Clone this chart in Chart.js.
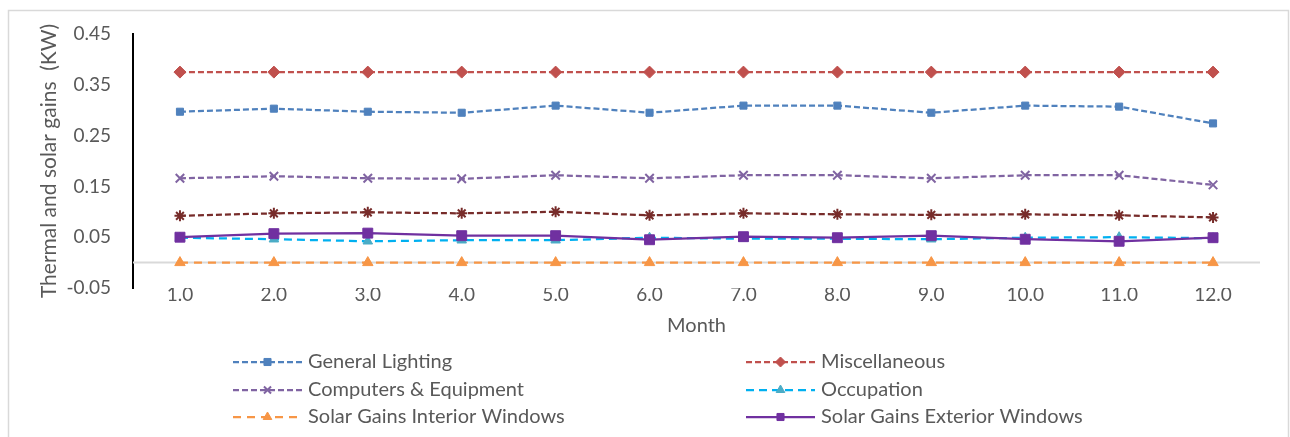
<!DOCTYPE html>
<html>
<head>
<meta charset="utf-8">
<script src="https://cdn.jsdelivr.net/npm/chart.js@4.4.1/dist/chart.umd.min.js"></script>
<style>
  html, body { margin: 0; padding: 0; background: #ffffff; }
  #wrap { position: relative; width: 1290px; height: 437px; }
</style>
</head>
<body>
<div id="wrap"><canvas id="gains" width="1290" height="437"></canvas></div>
<script>
// Monthly thermal and solar gains (kW)
const months = ['1.0', '2.0', '3.0', '4.0', '5.0', '6.0', '7.0', '8.0', '9.0', '10.0', '11.0', '12.0'];

const generalLighting    = [0.297, 0.303, 0.297, 0.295, 0.309, 0.295, 0.309, 0.309, 0.295, 0.309, 0.307, 0.274];
const miscellaneous      = [0.375, 0.375, 0.375, 0.375, 0.375, 0.375, 0.375, 0.375, 0.375, 0.375, 0.375, 0.375];
const computersEquipment = [0.166, 0.170, 0.166, 0.165, 0.172, 0.166, 0.172, 0.172, 0.166, 0.172, 0.172, 0.153];
const otherGains         = [0.092, 0.097, 0.099, 0.097, 0.100, 0.093, 0.097, 0.095, 0.094, 0.095, 0.093, 0.089];
const occupation         = [0.049, 0.046, 0.042, 0.044, 0.044, 0.049, 0.047, 0.047, 0.046, 0.049, 0.050, 0.048];
const solarInterior      = [0, 0, 0, 0, 0, 0, 0, 0, 0, 0, 0, 0];
const solarExterior      = [0.050, 0.057, 0.058, 0.053, 0.053, 0.045, 0.051, 0.049, 0.053, 0.046, 0.042, 0.049];

const yMin = -0.05;
const yMax = 0.45;
const yStep = 0.1;

const FONT = 'Lato, "Open Sans", sans-serif';
const TEXT = '#595959';

function series(label, data, color, style, opts) {
  return Object.assign({
    label: label,
    data: data,
    borderColor: color,
    backgroundColor: color,
    pointBackgroundColor: color,
    pointBorderColor: color,
    borderWidth: 2.25,
    pointStyle: style,
    pointRadius: 5,
    pointHoverRadius: 5,
    pointBorderWidth: 1,
    tension: 0,
    fill: false
  }, opts || {});
}

const datasets = [
  series('Solar Gains Exterior Windows', solarExterior, '#7030a0', 'rect',
         { pointRadius: 7, borderWidth: 2.25, order: 0 }),
  series('Occupation', occupation, '#00b0f0', 'triangle',
         { pointBackgroundColor: '#4bacc6', pointBorderColor: '#4bacc6', pointRadius: 5.5,
           borderDash: [8, 5], order: 2 }),
  series('Other gains', otherGains, '#772c2a', 'star',
         { pointRadius: 5.5, pointBorderWidth: 2, borderDash: [6, 3], order: 3 }),
  series('Computers & Equipment', computersEquipment, '#8064a2', 'crossRot',
         { pointRadius: 6, pointBorderWidth: 2, borderDash: [6, 3], order: 4 }),
  series('General Lighting', generalLighting, '#4f81bd', 'rect',
         { pointRadius: 5, borderDash: [6, 3], order: 5 }),
  series('Miscellaneous', miscellaneous, '#c0504d', 'rectRot',
         { pointRadius: 6, borderDash: [6, 3], order: 6 }),
  series('Solar Gains Interior Windows', solarInterior, '#f79646', 'triangle',
         { pointRadius: 6, borderDash: [8, 6], order: 1 })
];

// Two-column legend, read row by row
const legendRows = [
  ['General Lighting', 'Miscellaneous'],
  ['Computers & Equipment', 'Occupation'],
  ['Solar Gains Interior Windows', 'Solar Gains Exterior Windows']
];

const frame = {
  id: 'frame',
  beforeDraw(chart) {
    const ctx = chart.ctx;
    ctx.save();
    ctx.fillStyle = '#ffffff';
    ctx.fillRect(0, 0, chart.width, chart.height);
    ctx.strokeStyle = '#d9d9d9';
    ctx.lineWidth = 1.5;
    ctx.strokeRect(8.5, 10.5, 1280, 450);
    ctx.restore();
  }
};

const zeroLine = {
  id: 'zeroLine',
  beforeDatasetsDraw(chart) {
    const { ctx, chartArea, scales } = chart;
    const y = scales.y.getPixelForValue(0);
    ctx.save();
    ctx.strokeStyle = '#d9d9d9';
    ctx.lineWidth = 2;
    ctx.beginPath();
    ctx.moveTo(chartArea.left, y);
    ctx.lineTo(chartArea.right, y);
    ctx.stroke();
    ctx.restore();
  }
};

const gridLegend = {
  id: 'gridLegend',
  afterDraw(chart) {
    const ctx = chart.ctx;
    const colX = [233, 746];
    const rowY = [362, 390, 417];
    const sampleLen = 69;
    ctx.save();
    legendRows.forEach((row, r) => {
      row.forEach((name, c) => {
        const ds = chart.data.datasets.find(d => d.label === name);
        const x0 = colX[c];
        const y = rowY[r];
        ctx.save();
        ctx.strokeStyle = ds.borderColor;
        ctx.lineWidth = 2.25;
        ctx.setLineDash(ds.borderDash || []);
        ctx.beginPath();
        ctx.moveTo(x0, y);
        ctx.lineTo(x0 + sampleLen, y);
        ctx.stroke();
        ctx.restore();
        ctx.save();
        ctx.fillStyle = ds.pointBackgroundColor;
        ctx.strokeStyle = ds.pointBorderColor;
        ctx.lineWidth = ds.pointBorderWidth;
        Chart.helpers.drawPoint(ctx, {
          pointStyle: ds.pointStyle,
          radius: Math.min(ds.pointRadius, 5),
          rotation: 0,
          borderWidth: ds.pointBorderWidth
        }, x0 + sampleLen / 2, y);
        ctx.restore();
        ctx.fillStyle = TEXT;
        ctx.font = '20px ' + FONT;
        ctx.textAlign = 'left';
        ctx.textBaseline = 'middle';
        ctx.fillText(name, x0 + sampleLen + 6, y);
      });
    });
    ctx.restore();
  }
};

new Chart(document.getElementById('gains'), {
  type: 'line',
  data: { labels: months, datasets: datasets },
  plugins: [frame, zeroLine, gridLegend],
  options: {
    responsive: false,
    animation: false,
    events: [],
    layout: { padding: { left: 0, top: 34, right: 30, bottom: 97 } },
    plugins: {
      legend: { display: false },
      tooltip: { enabled: false }
    },
    scales: {
      x: {
        type: 'category',
        offset: true,
        grid: { display: false, drawTicks: false },
        border: { display: false },
        ticks: { color: TEXT, font: { family: FONT, size: 19 }, padding: -5, maxRotation: 0 },
        title: { display: true, text: 'Month', color: TEXT, font: { family: FONT, size: 20 },
                 padding: { top: 0, bottom: 2 } },
        afterFit(scale) { scale.height = 52; }
      },
      y: {
        min: yMin,
        max: yMax,
        grid: { display: false, drawTicks: false },
        border: { display: true, color: '#000000', width: 2 },
        ticks: {
          stepSize: yStep,
          color: TEXT,
          font: { family: FONT, size: 19 },
          padding: 22,
          callback: v => Number(v).toFixed(2)
        },
        title: { display: true, text: 'Thermal and solar gains  (KW)', color: TEXT,
                 font: { family: FONT, size: 21 }, padding: { top: 37, bottom: 0 } },
        afterFit(scale) { scale.width = 133; }
      }
    }
  }
});
</script>
</body>
</html>
